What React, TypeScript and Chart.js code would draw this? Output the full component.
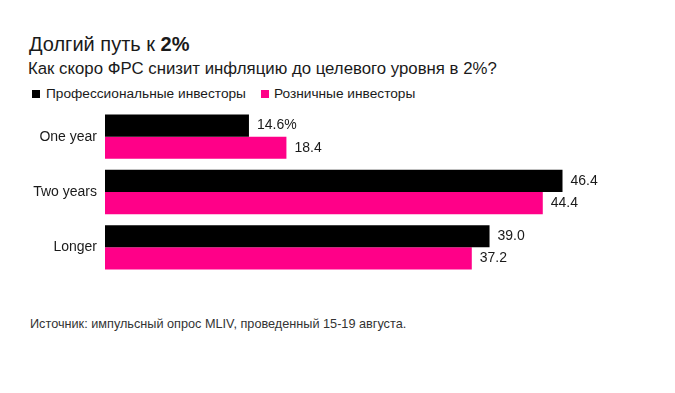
import React, { useEffect, useRef } from "react";
import { Chart, registerables } from "chart.js";

Chart.register(...registerables);

const categories = ["One year", "Two years", "Longer"];
const professional = [14.6, 46.4, 39.0];
const retail = [18.4, 44.4, 37.2];
const seriesNames = ["Профессиональные инвесторы", "Розничные инвесторы"];
const titleText = "Долгий путь к ";
const titleBold = "2%";
const subtitleText = "Как скоро ФРС снизит инфляцию до целевого уровня в 2%?";
const sourceText = "Источник: импульсный опрос MLIV, проведенный 15-19 августа.";

const BLACK = "#000000";
const PINK = "#ff0088";
const FONT = "'Liberation Sans', Arial, sans-serif";

const labelPlugin = {
  id: "barLabels",
  afterDatasetsDraw(chart: any) {
    const ctx = chart.ctx;
    ctx.save();
    ctx.font = `14px ${FONT}`;
    ctx.fillStyle = "#1a1a1a";
    ctx.textAlign = "left";
    ctx.textBaseline = "middle";
    chart.data.datasets.forEach((ds: any, di: number) => {
      const meta = chart.getDatasetMeta(di);
      meta.data.forEach((bar: any, i: number) => {
        const v = ds.data[i];
        const txt = di === 0 && i === 0 ? v.toFixed(1) + "%" : v.toFixed(1);
        ctx.fillText(txt, bar.x + 8, bar.y);
      });
    });
    ctx.restore();
  },
};

export default function App() {
  const ref = useRef<HTMLCanvasElement>(null);
  useEffect(() => {
    if (!ref.current) return;
    const chart = new Chart(ref.current, {
      type: "bar",
      data: {
        labels: categories,
        datasets: [
          { label: seriesNames[0], data: professional, backgroundColor: BLACK, categoryPercentage: 0.8, barPercentage: 1.0 },
          { label: seriesNames[1], data: retail, backgroundColor: PINK, categoryPercentage: 0.8, barPercentage: 1.0 },
        ],
      },
      options: {
        indexAxis: "y",
        animation: false,
        responsive: false,
        maintainAspectRatio: false,
        layout: { padding: { top: 0, bottom: 0, left: 0, right: 77 } },
        plugins: { legend: { display: false }, tooltip: { enabled: false } },
        scales: {
          x: { display: false, min: 0, max: 50 },
          y: {
            grid: { display: false, drawTicks: false },
            border: { display: false },
            ticks: { color: "#1a1a1a", font: { family: FONT, size: 14 }, padding: 8 },
            afterFit(scale: any) {
              scale.width = 105;
              scale.paddingTop = 0;
              scale.paddingBottom = 0;
            },
          },
        },
      },
      plugins: [labelPlugin],
    });
    return () => chart.destroy();
  }, []);

  const text: React.CSSProperties = { position: "absolute", fontFamily: FONT, color: "#1a1a1a", whiteSpace: "nowrap", margin: 0 };
  return (
    <div style={{ position: "fixed", left: 0, top: 0, width: 675, height: 393, background: "#fff", overflow: "hidden" }}>
      <div style={{ ...text, left: 29, top: 33, fontSize: 20, lineHeight: "22px" }}>
        {titleText}
        <b>{titleBold}</b>
      </div>
      <div style={{ ...text, left: 28, top: 59, fontSize: 16.8, lineHeight: "19px" }}>{subtitleText}</div>
      <div style={{ ...text, left: 32, top: 86, fontSize: 13.7, lineHeight: "16px", display: "flex", alignItems: "center" }}>
        <span style={{ display: "inline-block", width: 8, height: 8, background: BLACK, marginRight: 6 }} />
        <span>{seriesNames[0]}</span>
        <span style={{ display: "inline-block", width: 8, height: 8, background: PINK, marginLeft: 15, marginRight: 5 }} />
        <span>{seriesNames[1]}</span>
      </div>
      <canvas ref={ref} width={675} height={166} style={{ position: "absolute", left: 0, top: 109, width: 675, height: 166 }} />
      <div style={{ ...text, left: 30, top: 317, fontSize: 12.7, lineHeight: "15px", color: "#333" }}>{sourceText}</div>
    </div>
  );
}
